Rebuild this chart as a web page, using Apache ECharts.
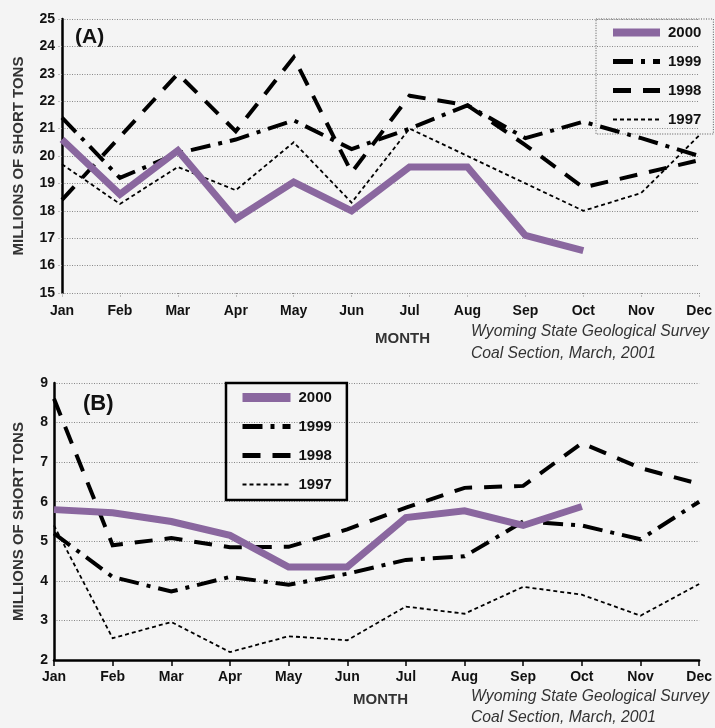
<!DOCTYPE html>
<html><head><meta charset="utf-8">
<script src="https://cdn.jsdelivr.net/npm/echarts@6/dist/echarts.min.js"></script>
<style>html,body{margin:0;padding:0;background:#f4f4f4}#c{width:715px;height:728px}</style>
</head><body><div id="c"></div>
<script>
const months = ['Jan','Feb','Mar','Apr','May','Jun','Jul','Aug','Sep','Oct','Nov','Dec'];
const seriesNames = ['2000','1999','1998','1997'];
// Panel A
const a2000 = [20.6, 18.6, 20.2, 17.7, 19.05, 18.0, 19.6, 19.6, 17.1, 16.55];
const a1999 = [21.4, 19.2, 20.1, 20.6, 21.3, 20.25, 21.0, 21.85, 20.65, 21.25, 20.65, 20.0];
const a1998 = [18.4, 20.7, 23.0, 20.9, 23.6, 19.4, 22.2, 21.85, 20.4, 18.85, 19.35, 19.85];
const a1997 = [19.7, 18.25, 19.6, 18.75, 20.5, 18.3, 21.0, 20.0, 19.0, 18.0, 18.65, 20.75];
// Panel B
const b2000 = [5.8, 5.72, 5.5, 5.15, 4.35, 4.35, 5.6, 5.77, 5.4, 5.88];
const b1999 = [5.2, 4.1, 3.73, 4.1, 3.9, 4.18, 4.53, 4.62, 5.5, 5.4, 5.05, 6.0];
const b1998 = [8.6, 4.9, 5.08, 4.85, 4.86, 5.3, 5.85, 6.35, 6.4, 7.48, 6.85, 6.45];
const b1997 = [5.4, 2.55, 2.96, 2.2, 2.6, 2.5, 3.35, 3.17, 3.85, 3.65, 3.12, 3.92];

const FONT = '"Liberation Sans", Arial, Helvetica, sans-serif';
const PURPLE = '#8a679f';
const styles = {
  '2000': {color: PURPLE, width: 7, type: 'solid'},
  '1999': {color: '#000', width: 4, type: [20, 8, 4, 8]},
  '1998': {color: '#000', width: 4, type: [18, 12]},
  '1997': {color: '#000', width: 1.8, type: [4, 3]}
};
function mk(name, data, idx) {
  const s = styles[name];
  return {
    name: name, type: 'line', data: data, xAxisIndex: idx, yAxisIndex: idx,
    showSymbol: false, symbol: 'none', silent: true, animation: false,
    z: name === '2000' ? 5 : 3,
    lineStyle: {color: s.color, width: s.width, type: s.type, cap: 'butt', join: 'miter'},
    itemStyle: {color: s.color}
  };
}
function legendData(widths) {
  return seriesNames.map((n, i) => ({name: n, lineStyle: {width: widths[i]}}));
}
const gridLine = {show: true, lineStyle: {color: '#888', width: 1, type: [1, 1.5]}};
const tickFont = {fontFamily: FONT, fontWeight: 'bold', fontSize: 14, color: '#111'};
const nameFont = {fontFamily: FONT, fontWeight: 'bold', fontSize: 15, color: '#333'};

const chart = echarts.init(document.getElementById('c'), null, {renderer: 'canvas'});
chart.setOption({
  backgroundColor: '#f4f4f4',
  animation: false,
  grid: [
    {left: 62, top: 19, width: 638, height: 274},
    {left: 54, top: 383, width: 647, height: 277}
  ],
  xAxis: [
    {type: 'category', gridIndex: 0, data: months, boundaryGap: false,
     axisLine: {show: false},
     axisTick: {show: true, length: 5, alignWithLabel: true, lineStyle: {color: '#888', type: [1, 1.5]}},
     axisLabel: Object.assign({margin: 11}, tickFont), splitLine: {show: false}},
    {type: 'category', gridIndex: 1, data: months, boundaryGap: false,
     axisLine: {show: true, lineStyle: {color: '#000', width: 2.5}},
     axisTick: {show: true, length: 6, lineStyle: {color: '#000', width: 1.5}},
     axisLabel: Object.assign({margin: 10}, tickFont), splitLine: {show: false}}
  ],
  yAxis: [
    {type: 'value', gridIndex: 0, min: 15, max: 25, interval: 1,
     name: 'MILLIONS OF SHORT TONS', nameLocation: 'middle', nameGap: 36, nameRotate: 90,
     nameTextStyle: nameFont,
     axisLine: {show: true, lineStyle: {color: '#000', width: 2.5}},
     axisTick: {show: true, length: 5, lineStyle: {color: '#888', type: [1, 1.5]}},
     axisLabel: Object.assign({margin: 7}, tickFont), splitLine: gridLine},
    {type: 'value', gridIndex: 1, min: 2, max: 9, interval: 1,
     name: 'MILLIONS OF SHORT TONS', nameLocation: 'middle', nameGap: 28, nameRotate: 90,
     nameTextStyle: nameFont,
     axisLine: {show: true, lineStyle: {color: '#000', width: 2.5}},
     axisTick: {show: false},
     axisLabel: Object.assign({margin: 6}, tickFont), splitLine: gridLine}
  ],
  legend: [
    {orient: 'vertical', left: 596, top: 19, padding: [6, 12, 7, 13],
     itemWidth: 47, itemHeight: 14, itemGap: 14, selectedMode: false,
     borderColor: '#555', borderWidth: 1, borderType: [1, 1.5], backgroundColor: 'transparent',
     itemStyle: {opacity: 0},
     textStyle: {fontFamily: FONT, fontWeight: 'bold', fontSize: 15, color: '#111', padding: [0, 0, 0, 3]},
     data: legendData([8, 5, 5, 2])},
    {orient: 'vertical', left: 226, top: 383, padding: [7, 15, 8, 12],
     itemWidth: 48, itemHeight: 14, itemGap: 14, selectedMode: false,
     borderColor: '#000', borderWidth: 2.5, backgroundColor: 'transparent',
     itemStyle: {opacity: 0},
     textStyle: {fontFamily: FONT, fontWeight: 'bold', fontSize: 15, color: '#111', padding: [0, 0, 0, 3]},
     data: legendData([9, 5, 5, 2])}
  ],
  graphic: [
    {type: 'text', left: 75, top: 27, style: {text: '(A)', font: 'bold 21px ' + FONT, fill: '#111'}},
    {type: 'text', left: 83, top: 393, style: {text: '(B)', font: 'bold 22px ' + FONT, fill: '#111'}},
    {type: 'text', left: 375, top: 331, style: {text: 'MONTH', font: 'bold 15px ' + FONT, fill: '#333'}},
    {type: 'text', left: 353, top: 692, style: {text: 'MONTH', font: 'bold 15px ' + FONT, fill: '#333'}},
    {type: 'text', left: 471, top: 324, style: {text: 'Wyoming State Geological Survey', font: 'italic 15.7px ' + FONT, fill: '#333'}},
    {type: 'text', left: 471, top: 346, style: {text: 'Coal Section, March, 2001', font: 'italic 15.7px ' + FONT, fill: '#333'}},
    {type: 'text', left: 471, top: 689, style: {text: 'Wyoming State Geological Survey', font: 'italic 15.7px ' + FONT, fill: '#333'}},
    {type: 'text', left: 471, top: 710, style: {text: 'Coal Section, March, 2001', font: 'italic 15.7px ' + FONT, fill: '#333'}}
  ],
  series: [
    mk('1997', a1997, 0), mk('1998', a1998, 0), mk('1999', a1999, 0), mk('2000', a2000, 0),
    mk('1997', b1997, 1), mk('1998', b1998, 1), mk('1999', b1999, 1), mk('2000', b2000, 1)
  ]
});
</script></body></html>
